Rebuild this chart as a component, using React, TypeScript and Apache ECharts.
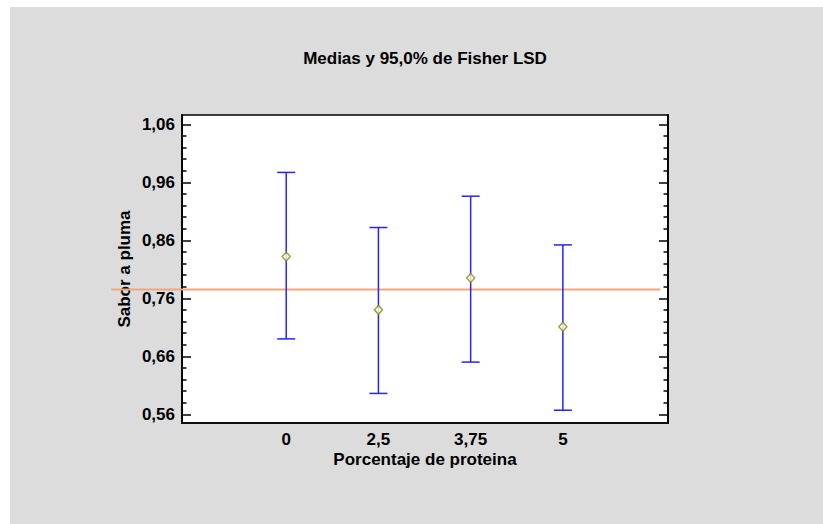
import React, { useEffect, useRef } from "react";
import * as echarts from "echarts";

const categories = ["0", "2,5", "3,75", "5"];
const positions = [0, 1, 2, 3];
const means = [0.832, 0.74, 0.795, 0.711];
const lower = [0.69, 0.596, 0.65, 0.567];
const upper = [0.977, 0.882, 0.936, 0.852];
const grandMean = 0.775;
const meanLineX = [-1.898, 4.056];
const yMajorTicks = [0.56, 0.66, 0.76, 0.86, 0.96, 1.06];
const yMinorTicks = [
  0.58, 0.6, 0.62, 0.64, 0.68, 0.7, 0.72, 0.74, 0.78, 0.8, 0.82, 0.84,
  0.88, 0.9, 0.92, 0.94, 0.98, 1.0, 1.02, 1.04,
];
const yMin = 0.545;
const yMax = 1.076;
const xMin = -1.13;
const xMax = 4.14;

const FONT = "'Liberation Sans', Arial, sans-serif";
const FS = 17;

export default function App() {
  const ref = useRef<HTMLDivElement>(null);
  useEffect(() => {
    if (!ref.current) return;
    const chart = echarts.init(ref.current, undefined, { renderer: "svg" });
    const fmt = (v: number) => v.toFixed(2).replace(".", ",");
    const baseY = {
      type: "value" as const,
      min: yMin,
      max: yMax,
      splitLine: { show: false },
      axisLine: { show: true, onZero: false, lineStyle: { color: "#000", width: 1.5 } },
    };
    const option: any = {
      animation: false,
      backgroundColor: "#DCDCDC",
      textStyle: { fontFamily: FONT },
      title: {
        text: "Medias y 95,0% de Fisher LSD",
        left: 410,
        top: 38,
        textAlign: "center",
        textStyle: { fontFamily: FONT, fontSize: FS, fontWeight: "bold", color: "#000" },
      },
      grid: {
        left: 172,
        top: 108,
        width: 486,
        height: 308,
        show: true,
        backgroundColor: "#fff",
        borderColor: "#000",
        borderWidth: 1.5,
      },
      xAxis: {
        type: "value",
        min: xMin,
        max: xMax,
        name: "Porcentaje de proteina",
        nameLocation: "middle",
        nameGap: 28,
        nameMoveOverlap: false,
        nameTextStyle: { fontFamily: FONT, fontSize: FS, fontWeight: "bold", color: "#000" },
        splitLine: { show: false },
        axisLine: { show: true, onZero: false, lineStyle: { color: "#000", width: 1.5 } },
        axisTick: { show: false },
        axisLabel: {
          customValues: positions,
          formatter: (v: number) => categories[Math.round(v)] ?? "",
          fontFamily: FONT,
          fontSize: FS,
          fontWeight: "bold",
          color: "#000",
          margin: 8,
        },
      },
      yAxis: [
        {
          ...baseY,
          position: "left",
          name: "Sabor a pluma",
          nameLocation: "middle",
          nameGap: 49,
          nameMoveOverlap: false,
          nameTextStyle: { fontFamily: FONT, fontSize: FS, fontWeight: "bold", color: "#000" },
          axisTick: { show: true, inside: true, length: 9, customValues: yMajorTicks, lineStyle: { color: "#000", width: 1.5 } },
          axisLabel: {
            customValues: yMajorTicks,
            formatter: fmt,
            fontFamily: FONT,
            fontSize: FS,
            fontWeight: "bold",
            color: "#000",
            margin: 7,
          },
        },
        {
          ...baseY,
          position: "left",
          axisTick: { show: true, inside: true, length: 4.5, customValues: yMinorTicks, lineStyle: { color: "#000", width: 1.5 } },
          axisLabel: { show: false },
        },
        {
          ...baseY,
          position: "right",
          axisTick: { show: true, inside: true, length: 9, customValues: yMajorTicks, lineStyle: { color: "#000", width: 1.5 } },
          axisLabel: { show: false },
        },
        {
          ...baseY,
          position: "right",
          axisTick: { show: true, inside: true, length: 4.5, customValues: yMinorTicks, lineStyle: { color: "#000", width: 1.5 } },
          axisLabel: { show: false },
        },
      ],
      series: [
        {
          type: "custom",
          clip: false,
          silent: true,
          data: [[meanLineX[0], meanLineX[1], grandMean]],
          renderItem: (params: any, api: any) => {
            const a = api.coord([api.value(0), api.value(2)]);
            const b = api.coord([api.value(1), api.value(2)]);
            return {
              type: "line",
              shape: { x1: a[0], y1: a[1], x2: b[0], y2: b[1] },
              style: { stroke: "#F2A67C", lineWidth: 2 },
            };
          },
          z: 20,
        },
        {
          type: "custom",
          clip: false,
          data: positions.map((p, i) => [p, lower[i], upper[i]]),
          renderItem: (params: any, api: any) => {
            const x = api.value(0);
            const lo = api.coord([x, api.value(1)]);
            const hi = api.coord([x, api.value(2)]);
            const half = 9;
            const style = { stroke: "#2424FF", lineWidth: 1.5, fill: "none" };
            return {
              type: "group",
              children: [
                { type: "line", shape: { x1: lo[0], y1: lo[1], x2: hi[0], y2: hi[1] }, style },
                { type: "line", shape: { x1: hi[0] - half, y1: hi[1], x2: hi[0] + half, y2: hi[1] }, style },
                { type: "line", shape: { x1: lo[0] - half, y1: lo[1], x2: lo[0] + half, y2: lo[1] }, style },
              ],
            };
          },
          z: 21,
        },
        {
          type: "scatter",
          symbol: "diamond",
          symbolSize: [8, 9],
          data: positions.map((p, i) => [p, means[i]]),
          itemStyle: { color: "#fff", borderColor: "#8C8A00", borderWidth: 1.5 },
          z: 22,
        },
      ],
    };
    chart.setOption(option);
    return () => chart.dispose();
  }, []);
  return (
    <div
      ref={ref}
      style={{ position: "absolute", left: 10, top: 7, width: 813, height: 517 }}
    />
  );
}
